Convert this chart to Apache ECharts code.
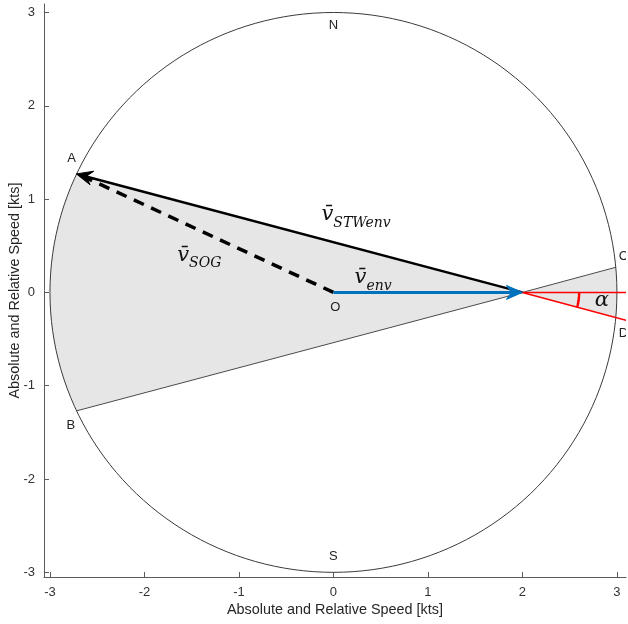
<!DOCTYPE html>
<html><head><meta charset="utf-8">
<script src="https://cdn.jsdelivr.net/npm/echarts@6/dist/echarts.min.js"></script>
<style>html,body{margin:0;padding:0;background:#fff}#c{width:628px;height:624px}</style>
</head><body><div id="c"></div>
<script>
// ---- data ----
const tickValues = [-3, -2, -1, 0, 1, 2, 3];
const radius = 3;
const origin = [0, 0];
const vEnvTip = [2, 0];          // tip of v_env, apex of the cone
const pointA = [-2.72, 1.27];
const pointB = [-2.72, -1.27];
const pointC = [2.99, 0.27];
const pointD = [2.99, -0.27];
const alphaArcRadius = 0.6;
const pointLabels = [
  ['N', 0, 2.86], ['S', 0, -2.83], ['A', -2.77, 1.44], ['B', -2.78, -1.43],
  ['C', 3.07, 0.39], ['D', 3.07, -0.44], ['O', 0.02, -0.16]
];
const vectorLabels = [
  ['STWenv', 0.24, 0.83], ['SOG', -1.42, 0.40], ['env', 0.42, 0.16]
];
const alphaLabel = ['α', 2.84, -0.09];
const xAxisRange = [-3.063, 3.096];
const yAxisRange = [-3.05, 3.091];
const axisName = 'Absolute and Relative Speed [kts]';

const chart = echarts.init(document.getElementById('c'));

function angOf(p){ return Math.atan2(p[1], p[0]); }
function arcPts(api, a0, a1, n){
  const out = [];
  for (let i = 0; i <= n; i++){
    const a = a0 + (a1 - a0) * i / n;
    out.push(api.coord([radius*Math.cos(a), radius*Math.sin(a)]));
  }
  return out;
}
function head(tip, from, len, hw, notch, color){
  let dx = tip[0]-from[0], dy = tip[1]-from[1];
  const L = Math.hypot(dx, dy); dx/=L; dy/=L;
  const nx = -dy, ny = dx;
  return {type:'polygon', shape:{points:[
    tip,
    [tip[0]-dx*len+nx*hw, tip[1]-dy*len+ny*hw],
    [tip[0]-dx*(len-notch), tip[1]-dy*(len-notch)],
    [tip[0]-dx*len-nx*hw, tip[1]-dy*len-ny*hw]
  ]}, style:{fill:color, stroke:color, lineWidth:1}};
}

function renderItem(params, api){
  const V = api.coord(vEnvTip), O = api.coord(origin);
  const A = api.coord(pointA), B = api.coord(pointB);
  const C = api.coord(pointC), D = api.coord(pointD);
  const aA = angOf(pointA), aB = angOf(pointB) + 2*Math.PI;
  const aC = angOf(pointC), aD = angOf(pointD);
  const children = [];
  children.push({type:'polygon', shape:{points:[V].concat(arcPts(api, aA, aB, 40))},
    style:{fill:'#e6e6e6', stroke:null}});
  children.push({type:'polygon', shape:{points:[V].concat(arcPts(api, aC, aD, 8))},
    style:{fill:'#e6e6e6', stroke:null}});
  children.push({type:'polygon', shape:{points:arcPts(api, 0, 2*Math.PI, 180)},
    style:{fill:null, stroke:'#3a3a3a', lineWidth:1}});
  children.push({type:'line', shape:{x1:V[0],y1:V[1],x2:B[0],y2:B[1]}, style:{stroke:'#4a4a4a', lineWidth:1}});
  children.push({type:'line', shape:{x1:V[0],y1:V[1],x2:C[0],y2:C[1]}, style:{stroke:'#4a4a4a', lineWidth:1}});
  const xr = xAxisRange[1];
  const Rh = api.coord([xr, 0]);
  const slope = (pointD[1]-vEnvTip[1])/(pointD[0]-vEnvTip[0]);
  const Rd = api.coord([xr, vEnvTip[1] + slope*(xr - vEnvTip[0])]);
  children.push({type:'line', shape:{x1:V[0],y1:V[1],x2:Rh[0],y2:Rh[1]}, style:{stroke:'#ff0000', lineWidth:1.5}});
  children.push({type:'line', shape:{x1:V[0],y1:V[1],x2:Rd[0],y2:Rd[1]}, style:{stroke:'#ff0000', lineWidth:1.5}});
  const th = Math.atan(slope);
  const ap = [];
  for (let i = 0; i <= 10; i++){
    const a = th * i / 10;
    ap.push(api.coord([vEnvTip[0] + alphaArcRadius*Math.cos(a), vEnvTip[1] + alphaArcRadius*Math.sin(a)]));
  }
  children.push({type:'polyline', shape:{points:ap}, style:{stroke:'#ff0000', lineWidth:2.5, fill:null}});
  children.push({type:'line', shape:{x1:O[0],y1:O[1],x2:A[0]+10,y2:A[1]+4}, style:{stroke:'#000', lineWidth:3.5, lineDash:[11,8]}});
  const dxa = A[0]-V[0], dya = A[1]-V[1], la = Math.hypot(dxa, dya);
  children.push({type:'line', shape:{x1:V[0],y1:V[1],x2:A[0]-dxa/la*8,y2:A[1]-dya/la*8}, style:{stroke:'#000', lineWidth:2.5}});
  children.push(head(A, V, 16, 7, 6, '#000'));
  children.push({type:'line', shape:{x1:O[0],y1:O[1],x2:V[0]-8,y2:V[1]}, style:{stroke:'#0072bd', lineWidth:3}});
  children.push(head(V, O, 16, 7, 5, '#0072bd'));
  pointLabels.forEach(function(l){
    const p = api.coord([l[1], l[2]]);
    children.push({type:'text', x:p[0], y:p[1], style:{text:l[0], fill:'#222', font:'13px "Liberation Sans", Arial, sans-serif', align:'center', verticalAlign:'middle'}});
  });
  vectorLabels.forEach(function(l){
    const p = api.coord([l[1], l[2]]);
    children.push({type:'text', x:p[0], y:p[1], style:{
      text:'{v|v\u0304}{s|' + l[0] + '}', align:'center', verticalAlign:'middle',
      rich:{
        v:{font:'italic 21px "DejaVu Serif", "Liberation Serif", serif', fill:'#111', verticalAlign:'bottom'},
        s:{font:'italic 14px "DejaVu Serif", "Liberation Serif", serif', fill:'#111', verticalAlign:'bottom', padding:[0,0,-5,0]}
      }}});
  });
  const pa = api.coord([alphaLabel[1], alphaLabel[2]]);
  children.push({type:'text', x:pa[0], y:pa[1], style:{text:alphaLabel[0], fill:'#111', font:'italic 21px "DejaVu Serif", "Liberation Serif", serif', align:'center', verticalAlign:'middle'}});
  return {type:'group', children:children};
}

const axisCommon = {
  type:'value', nameLocation:'middle', name:axisName, nameMoveOverlap:false,
  nameTextStyle:{color:'#262626', fontSize:14.4, fontFamily:'"Liberation Sans", Arial, sans-serif'},
  axisLine:{show:true, onZero:false, lineStyle:{color:'#5a5a5a', width:1}},
  axisTick:{show:true, inside:true, length:5, customValues:tickValues, lineStyle:{color:'#5a5a5a'}},
  axisLabel:{customValues:tickValues, color:'#333', fontSize:13, fontFamily:'"Liberation Sans", Arial, sans-serif', margin:9},
  splitLine:{show:false}
};

chart.setOption({
  animation:false,
  grid:{left:44, top:4, width:582, height:573, containLabel:false, outerBoundsMode:'none'},
  xAxis:Object.assign({}, axisCommon, {min:xAxisRange[0], max:xAxisRange[1], nameGap:26}),
  yAxis:Object.assign({}, axisCommon, {min:yAxisRange[0], max:yAxisRange[1], nameGap:22}),
  series:[{type:'custom', coordinateSystem:'cartesian2d', clip:true, renderItem:renderItem, data:[[0,0]], silent:true}]
});
</script></body></html>
